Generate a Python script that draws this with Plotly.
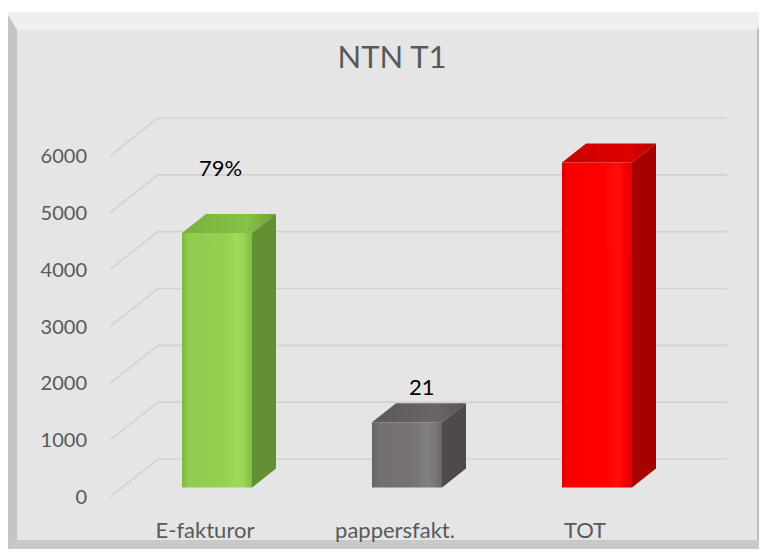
import plotly.graph_objects as go

# ---------------- data ----------------
categories = ["E-fakturor", "pappersfakt.", "TOT"]
values = [4480, 1150, 5720]
bar_labels = ["79%", "21", ""]
y_ticks = [0, 1000, 2000, 3000, 4000, 5000, 6000]

# ---------------- styling ----------------
W, H = 767, 553
OFF = 8                      # page body margin offset
L, T = 110 - OFF, 100 - OFF
R = W - (727 - OFF)
B = H - (505 - OFF)
PW, PH = W - L - R, H - T - B
PX_PER_CAT = 190.0
K = 341.0 / 6000.0          # px per value unit
X0 = 205.0 - OFF            # pixel of category 0 at front plane
Y0 = 497.0 - OFF            # pixel of value 0 at front plane

def xdata(px):
    return (px - X0) / PX_PER_CAT

def ydata(py):
    return (Y0 - py) / K

x_range = [xdata(L), xdata(W - R)]
y_range = [ydata(H - B), ydata(T)]

# depth offsets (full depth and bar placement)
DX, DY = 48 / PX_PER_CAT, 38 / K
FDX, FDY = 12 / PX_PER_CAT, 9.5 / K
BDX, BDY = 24 / PX_PER_CAT, 19 / K
HW = 35 / PX_PER_CAT

front_scales = [
    [[0, "#7db63e"], [0.08, "#90cd4e"], [0.6, "#93d151"], [0.8, "#9fdb5a"], [0.9, "#96d254"], [1, "#80bb44"]],
    [[0, "#66625f"], [0.08, "#736f6e"], [0.6, "#777372"], [0.8, "#838080"], [0.9, "#7a7675"], [1, "#6a6665"]],
    [[0, "#dd0000"], [0.08, "#fb0000"], [0.6, "#ff0000"], [0.8, "#ff0e0e"], [0.9, "#f60000"], [1, "#e00000"]],
]
side_colors = ["#618f31", "#4e4a49", "#a60000"]
top_scales = [
    [[0, "#78b13c"], [0.7, "#86c246"], [1, "#6c9f36"]],
    [[0, "#5c5857"], [0.7, "#6a6665"], [1, "#555150"]],
    [[0, "#c80000"], [0.7, "#e00000"], [1, "#b80000"]],
]

label_shift = [(3, 65), (15, 36), (0, 30)]
FONT = "Lato, 'Open Sans', sans-serif"

fig = go.Figure()

# gridlines (front diagonal + back wall)
for v in y_ticks:
    fig.add_trace(go.Scatter(
        x=[x_range[0], x_range[0] + DX, x_range[1]],
        y=[v, v + DY, v + DY],
        mode="lines", line=dict(color="#d2d2d2", width=1.6),
        hoverinfo="skip", showlegend=False))

# 3D bars
for i, (cat, v) in enumerate(zip(categories, values)):
    xl = i + FDX - HW
    xr = i + FDX + HW
    y0 = FDY
    y1 = FDY + v
    # side face
    fig.add_trace(go.Scatter(
        x=[xr, xr + BDX, xr + BDX, xr, xr],
        y=[y0, y0 + BDY, y1 + BDY, y1, y0],
        mode="lines", line=dict(width=0), fill="toself",
        fillcolor=side_colors[i], hoverinfo="skip", showlegend=False))
    # top face
    fig.add_trace(go.Scatter(
        x=[xl, xr, xr + BDX, xl + BDX, xl],
        y=[y1, y1, y1 + BDY, y1 + BDY, y1],
        mode="lines", line=dict(width=0), fill="toself",
        fillgradient=dict(type="horizontal", colorscale=top_scales[i]),
        hoverinfo="skip", showlegend=False))
    # front face
    fig.add_trace(go.Scatter(
        x=[xl, xr, xr, xl, xl],
        y=[y0, y0, y1, y1, y0],
        mode="lines", line=dict(width=0), fill="toself",
        fillgradient=dict(type="horizontal", colorscale=front_scales[i]),
        name=cat, hoverinfo="skip", showlegend=False))
    if bar_labels[i]:
        fig.add_annotation(
            x=i + FDX, y=y1, text=bar_labels[i], showarrow=False,
            xshift=label_shift[i][0], yshift=label_shift[i][1],
            font=dict(family=FONT, size=22, color="#000000"))

# frame shapes (pixel -> paper)
def px(xp):
    return (xp - OFF - L) / PW

def py(yp):
    return (H - B - (yp - OFF)) / PH

def poly(points, color):
    d = "M " + " L ".join(f"{px(a):.5f},{py(b):.5f}" for a, b in points) + " Z"
    return dict(type="path", xref="paper", yref="paper", path=d,
                fillcolor=color, line=dict(width=0), layer="below")

shapes = [
    poly([(6, 12), (775, 12), (775, 549), (6, 549)], "#cfcfcf"),
    poly([(6, 12), (767, 12), (757, 30), (17, 30)], "#efefef"),
    poly([(6, 12), (17, 30), (17, 540), (6, 549)], "#c4c4c4"),
    poly([(767, 12), (767, 549), (757, 540), (757, 30)], "#bcbcbc"),
    poly([(6, 549), (17, 540), (757, 540), (767, 549)], "#c9c9c9"),
    poly([(17, 30), (757, 30), (757, 540), (17, 540)], "#e5e5e5"),
]

fig.update_layout(
    width=W, height=H,
    margin=dict(l=L, r=R, t=T, b=B, pad=0),
    paper_bgcolor="#ffffff",
    plot_bgcolor="rgba(0,0,0,0)",
    shapes=shapes,
    title=dict(text="NTN T1", x=(392 - OFF) / W, xref="container", xanchor="center",
               y=1 - (57 - OFF) / H, yref="container", yanchor="middle",
               font=dict(family=FONT, size=31, color="#595959")),
    xaxis=dict(range=x_range, tickvals=[0, 1, 2], ticktext=categories,
               showgrid=False, zeroline=False, showline=False, ticks="",
               ticklabelstandoff=10,
               tickfont=dict(family=FONT, size=22, color="#595959"),
               fixedrange=True),
    yaxis=dict(range=y_range, tickvals=y_ticks, showgrid=False, zeroline=False,
               showline=False, ticks="", ticklabelstandoff=22,
               tickfont=dict(family=FONT, size=20, color="#595959"),
               fixedrange=True),
)

fig.write_html("out.html")
